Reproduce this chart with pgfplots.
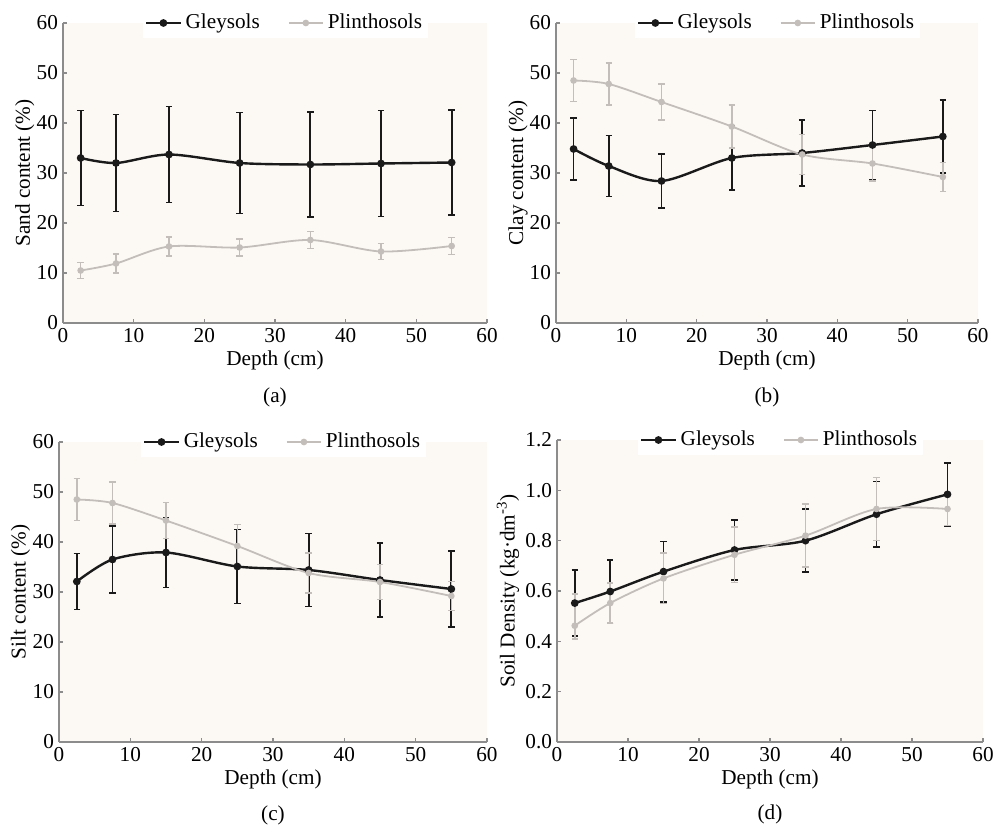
\documentclass[border=0pt]{standalone}
\usepackage{pgfplots}
\pgfplotsset{compat=1.18}
\usepackage{fontspec}
\setmainfont{Liberation Serif}
\newcommand{\ff}{\fontsize{10.6pt}{12pt}\selectfont}
\definecolor{gley}{HTML}{1A1A1A}
\definecolor{plin}{HTML}{C4BEBA}
\definecolor{axgray}{HTML}{8C8C8C}
\definecolor{bgcream}{HTML}{FCF9F5}
\pgfplotsset{
  panel/.style={
    scale only axis, width=212pt, height=150pt,
    xmin=0, xmax=60, xtick={0,10,...,60},
    axis lines=left, axis line style={axgray, line width=0.8pt, -},
    tick style={axgray, line width=0.6pt}, major tick length=2pt,
    tick align=inside,
    /pgf/number format/assume math mode=true,
    tick label style={font=\ff},
    label style={font=\ff},
    xticklabel style={yshift=1pt},
    yticklabel style={xshift=1pt},
    xlabel={Depth (cm)},
    xlabel style={at={(axis description cs:0.5,0)}, anchor=center, yshift=-18.5pt},
    axis background/.style={fill=bgcream},
    legend columns=2,
    legend style={at={(0.525,1.0)}, anchor=center, draw=none, fill=white,
      /tikz/every even column/.append style={column sep=12pt},
      font=\ff, inner sep=1pt},
    legend cell align=left,
    clip=false,
  },
  gl/.style={color=gley, line width=1.2pt, smooth, tension=0.5, mark=*, mark size=1.3pt,
    mark options={fill=gley, solid},
    error bars/.cd, y dir=both, y explicit,
    error bar style={line width=0.9pt, gley},
    error mark options={rotate=90, mark size=1.6pt, line width=0.9pt, gley}},
  pl/.style={color=plin, line width=0.9pt, smooth, tension=0.5, mark=*, mark size=1.2pt,
    mark options={fill=plin, solid},
    error bars/.cd, y dir=both, y explicit,
    error bar style={line width=0.8pt, plin},
    error mark options={rotate=90, mark size=1.6pt, line width=0.8pt, plin}},
}
\begin{document}
\begin{tikzpicture}[x=1pt,y=1pt]
\path[use as bounding box] (0,0) rectangle (497.5,412.5);
% (a)
\begin{axis}[panel, at={(31.5pt,251pt)}, anchor=south west,
  ymin=0, ymax=60, ytick={0,10,...,60},
  ylabel={Sand content (\%)},
  ylabel style={at={(axis description cs:-0.09,0.5)}, anchor=center}]
\addplot+[gl] coordinates {(2.5,33.0) +- (0,9.5) (7.5,32.0) +- (0,9.7) (15,33.7) +- (0,9.6) (25,32.0) +- (0,10.1) (35,31.7) +- (0,10.5) (45,31.9) +- (0,10.6) (55,32.1) +- (0,10.5)};
\addlegendentry{Gleysols}
\addplot+[pl] coordinates {(2.5,10.5) +- (0,1.6) (7.5,11.9) +- (0,1.9) (15,15.3) +- (0,1.9) (25,15.1) +- (0,1.7) (35,16.6) +- (0,1.7) (45,14.3) +- (0,1.6) (55,15.4) +- (0,1.7)};
\addlegendentry{Plinthosols}
\node[font=\ff] at (axis description cs:0.5,0) [yshift=-37pt] {(a)};
\end{axis}
% (b)
\begin{axis}[panel, at={(278pt,251pt)}, anchor=south west, width=211pt,
  ymin=0, ymax=60, ytick={0,10,...,60},
  ylabel={Clay content (\%)},
  ylabel style={at={(axis description cs:-0.09,0.5)}, anchor=center}]
\addplot+[gl] coordinates {(2.5,34.8) +- (0,6.2) (7.5,31.4) +- (0,6.1) (15,28.4) +- (0,5.4) (25,33.0) +- (0,6.4) (35,34.0) +- (0,6.6) (45,35.6) +- (0,6.9) (55,37.3) +- (0,7.3)};
\addlegendentry{Gleysols}
\addplot+[pl] coordinates {(2.5,48.5) +- (0,4.2) (7.5,47.8) +- (0,4.2) (15,44.2) +- (0,3.6) (25,39.3) +- (0,4.3) (35,33.7) +- (0,4.0) (45,31.9) +- (0,3.5) (55,29.2) +- (0,2.9)};
\addlegendentry{Plinthosols}
\node[font=\ff] at (axis description cs:0.5,0) [yshift=-37pt] {(b)};
\end{axis}
% (c)
\begin{axis}[panel, at={(29.5pt,41.5pt)}, anchor=south west, width=214pt,
  ymin=0, ymax=60, ytick={0,10,...,60},
  ylabel={Silt content (\%)},
  ylabel style={at={(axis description cs:-0.09,0.5)}, anchor=center}]
\addplot+[gl] coordinates {(2.5,32.1) +- (0,5.6) (7.5,36.5) +- (0,6.7) (15,37.9) +- (0,7.0) (25,35.1) +- (0,7.4) (35,34.4) +- (0,7.3) (45,32.4) +- (0,7.4) (55,30.6) +- (0,7.6)};
\addlegendentry{Gleysols}
\addplot+[pl] coordinates {(2.5,48.5) +- (0,4.2) (7.5,47.8) +- (0,4.2) (15,44.3) +- (0,3.6) (25,39.2) +- (0,4.3) (35,33.8) +- (0,4.0) (45,32.0) +- (0,3.5) (55,29.2) +- (0,2.9)};
\addlegendentry{Plinthosols}
\node[font=\ff] at (axis description cs:0.5,0) [yshift=-36.5pt] {(c)};
\end{axis}
% (d)
\begin{axis}[panel, at={(278.5pt,41.5pt)}, anchor=south west, width=213pt, height=151pt,
  ymin=0, ymax=1.2, ytick={0,0.2,...,1.2},
  yticklabel style={/pgf/number format/.cd, fixed, fixed zerofill, precision=1},
  ylabel={Soil Density (kg·dm\textsuperscript{-3})},
  ylabel style={at={(axis description cs:-0.115,0.5)}, anchor=center}]
\addplot+[gl] coordinates {(2.5,0.552) +- (0,0.13) (7.5,0.598) +- (0,0.125) (15,0.677) +- (0,0.12) (25,0.763) +- (0,0.12) (35,0.80) +- (0,0.125) (45,0.905) +- (0,0.13) (55,0.984) +- (0,0.125)};
\addlegendentry{Gleysols}
\addplot+[pl] coordinates {(2.5,0.462) += (0,0.127) -= (0,0.052) (7.5,0.552) +- (0,0.08) (15,0.65) +- (0,0.1) (25,0.744) +- (0,0.11) (35,0.82) +- (0,0.125) (45,0.926) +- (0,0.125) (55,0.926) +- (0,0.065)};
\addlegendentry{Plinthosols}
\node[font=\ff] at (axis description cs:0.5,0) [yshift=-36pt] {(d)};
\end{axis}
\end{tikzpicture}
\end{document}
